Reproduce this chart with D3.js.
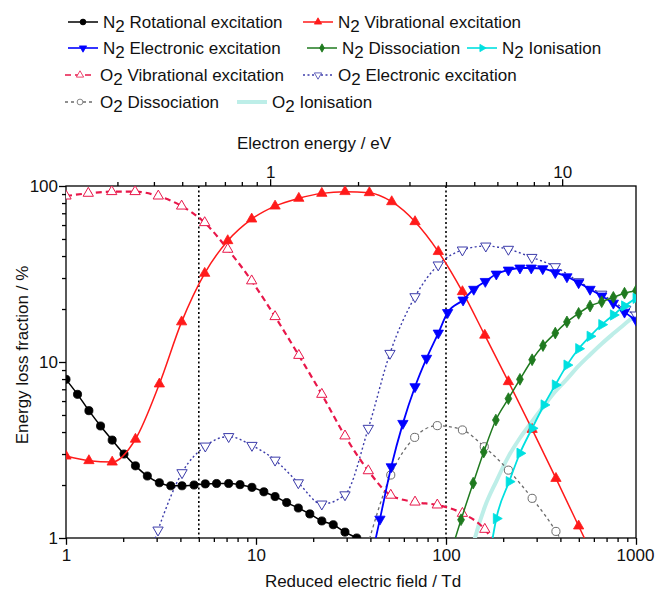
<!DOCTYPE html>
<meta charset="utf-8">
<style type="text/css">
  body { margin: 0; background: #fff; }
  text { font-family: "Liberation Sans", Arial, sans-serif; fill: #111; }
  .axis path, .axis line { stroke: #000; stroke-width: 1.3; }
</style>
<body>
</body>
<script src="https://d3js.org/d3.v7.min.js"></script>
<script>
  // energy loss fractions (%) vs reduced electric field (Td)
  var n2Rotational = [[1, 7.97], [1.15, 6.55], [1.32, 5.29], [1.52, 4.33], [1.75, 3.6], [2.02, 3.0], [2.32, 2.57],
    [2.68, 2.25], [3.1, 2.06], [3.56, 1.98], [4.08, 1.98], [4.72, 2.0], [5.41, 2.03], [6.2, 2.04], [7.18, 2.04],
    [8.24, 2.01], [9.52, 1.94], [11, 1.83], [12.6, 1.72], [14.5, 1.59], [16.7, 1.48], [19.2, 1.37], [22.2, 1.25],
    [25.5, 1.19], [29.4, 1.08], [33.9, 1.0], [39, 0.92]];
  var n2Vibrational = [[1, 2.92], [1.32, 2.75], [1.75, 2.7], [2.32, 3.64], [3.1, 7.5], [4.06, 16.9], [5.37, 31.9],
    [7.1, 48.9], [9.49, 64.9], [12.6, 76.9], [16.8, 85.1], [22.2, 90.8], [29.4, 92.9], [39.5, 91.6], [51.8, 81.4],
    [68.7, 62.7], [91.1, 42.4], [122, 25.1], [160, 14.2], [213, 7.73], [284, 4.14], [379, 2.18], [499, 1.17], [660, 0.62]];
  var n2Electronic = [[40, 0.72], [44.9, 1.28], [51.5, 2.54], [59.3, 4.48], [68.7, 7.24], [79, 10.5], [91.1, 14.6],
    [102, 19.1], [123, 22.5], [140, 25.9], [161, 28.7], [184, 31.6], [213, 33.3], [245, 34.2], [281, 34.2],
    [323, 33.9], [376, 32.2], [433, 30.5], [499, 28.2], [573, 25.9], [660, 23.7], [760, 21.6], [870, 19.2], [1000, 17.3]];
  var n2Dissociation = [[105, 0.8], [120, 1.27], [139, 2.05], [158, 3.08], [183, 4.68], [213, 6.19], [245, 7.97],
    [284, 10.3], [324, 12.4], [376, 14.6], [433, 16.9], [499, 18.9], [573, 20.8], [660, 22.0], [760, 23.3],
    [870, 24.6], [1000, 25.4]];
  var n2Ionisation = [[170, 0.8], [184, 1.29], [215, 2.09], [245, 3.03], [284, 4.2], [328, 5.7], [376, 7.4],
    [433, 9.6], [499, 11.9], [573, 14.0], [660, 16.3], [760, 18.5], [870, 20.8], [1000, 23]];
  var o2Vibrational = [[1, 87.7], [1.31, 90.9], [1.74, 92.9], [2.31, 92.9], [3.06, 87.7], [4.06, 76.9], [5.37, 61.9],
    [7.1, 43.7], [9.49, 28.9], [12.6, 18.1], [16.8, 10.9], [22.2, 6.55], [29.4, 3.8], [39, 2.41], [51.2, 1.75],
    [68.7, 1.6], [90, 1.54], [122, 1.38], [160, 1.12], [210, 0.7]];
  var o2Electronic = [[2.7, 0.75], [3.05, 1.11], [4.08, 2.35], [5.41, 3.33], [7.18, 3.77], [9.52, 3.36], [12.6, 2.77],
    [16.7, 2.06], [22.2, 1.56], [29.4, 1.76], [39, 4.2], [50.7, 11.2], [68.7, 23.5], [91, 35.6], [122, 43.3],
    [162, 45.6], [213, 43.7], [283, 39.3], [376, 34.8], [499, 28.6], [660, 24.3], [882, 19.9], [1000, 18.5]];
  var o2Dissociation = [[38, 0.85], [51.2, 2.28], [68.4, 3.73], [90, 4.35], [122, 4.11], [159, 3.3], [213, 2.43],
    [284, 1.68], [379, 1.09], [460, 0.75]];
  var o2Ionisation = [[135, 0.8], [142, 1.0], [160, 1.5], [184, 2.1], [213, 2.9], [245, 3.7], [284, 4.6], [330, 5.7],
    [376, 6.8], [433, 8.0], [499, 9.5], [573, 11.0], [660, 12.7], [760, 14.5], [870, 16.4], [1000, 18.5]];

  var fieldTicks = [1, 10, 100, 1000];
  var fractionTicks = [1, 10, 100];
  var energyTicks = [1, 10];
  var markerLines = [5, 100]; // dotted verticals

  // series table: molecule, process label, data, style
  var series = [
    {mol: "O", label: " Ionisation", data: o2Ionisation, color: "#bdeee8", width: 4, dash: null, shape: null},
    {mol: "O", label: " Dissociation", data: o2Dissociation, color: "#6b6b6b", width: 1.3, dash: "3,3", shape: "circle", open: true},
    {mol: "O", label: " Electronic excitation", data: o2Electronic, color: "#3c3caa", width: 1.4, dash: "2,2.5", shape: "down", open: true},
    {mol: "O", label: " Vibrational excitation", data: o2Vibrational, color: "#e8174a", width: 2.2, dash: "6,4", shape: "up", open: true},
    {mol: "N", label: " Rotational excitation", data: n2Rotational, color: "#000000", width: 1.5, dash: null, shape: "circle"},
    {mol: "N", label: " Vibrational excitation", data: n2Vibrational, color: "#ff1a1a", width: 1.5, dash: null, shape: "up"},
    {mol: "N", label: " Electronic excitation", data: n2Electronic, color: "#0000ff", width: 1.8, dash: null, shape: "down"},
    {mol: "N", label: " Dissociation", data: n2Dissociation, color: "#1f7a1f", width: 1.5, dash: null, shape: "diamond"},
    {mol: "N", label: " Ionisation", data: n2Ionisation, color: "#00e0e0", width: 1.8, dash: null, shape: "right"}
  ];

  var W = 657, H = 590;
  var margin = {top: 186, right: 21, bottom: 52, left: 66};
  var width = W - margin.left - margin.right,
    height = H - margin.top - margin.bottom;

  var svg = d3.select("body").append("svg")
    .attr("width", W)
    .attr("height", H);

  var xScale = d3.scaleLog().domain([1, 1000]).range([0, width]);
  var yScale = d3.scaleLog().domain([1, 100]).range([height, 0]);
  // mean electron energy axis on top, log as well
  var eScale = d3.scaleLog().domain([0.2, 17.9]).range([0, width]);

  var g = svg.append("g")
    .attr("transform", "translate(" + margin.left + "," + margin.top + ")");

  g.append("clipPath").attr("id", "plotclip")
    .append("rect").attr("width", width).attr("height", height);

  function minorTicks(scale) {
    return scale.ticks().filter(function(d) { return d >= scale.domain()[0] && d <= scale.domain()[1]; });
  }

  // axes
  var xAxis = g.append("g").attr("class", "axis")
    .attr("transform", "translate(0," + height + ")")
    .call(d3.axisBottom(xScale).tickValues(minorTicks(xScale))
      .tickFormat(function(d) { return fieldTicks.indexOf(d) >= 0 ? d : ""; })
      .tickSize(4).tickPadding(7));
  var yAxis = g.append("g").attr("class", "axis")
    .call(d3.axisLeft(yScale).tickValues(minorTicks(yScale))
      .tickFormat(function(d) { return fractionTicks.indexOf(d) >= 0 ? d : ""; })
      .tickSize(4).tickPadding(4));
  var topAxis = g.append("g").attr("class", "axis")
    .call(d3.axisTop(eScale).tickValues(minorTicks(eScale).filter(function(d) { return d > 0.2; }))
      .tickFormat(function(d) { return energyTicks.indexOf(d) >= 0 ? d : ""; })
      .tickSize(4).tickPadding(4));

  [xAxis, yAxis, topAxis].forEach(function(a) {
    a.select(".domain").remove();
    a.selectAll("text").style("font-size", "17px").attr("fill", "#111");
    a.selectAll(".tick").filter(function(d) {
      return fieldTicks.indexOf(d) >= 0 || energyTicks.indexOf(d) >= 0;
    }).select("line").attr("y2", function() { return +d3.select(this).attr("y2") * 1.7; });
  });
  yAxis.selectAll(".tick").filter(function(d) { return fractionTicks.indexOf(d) >= 0; })
    .select("line").attr("x2", -7);
  xAxis.selectAll(".tick").filter(function(d) { return d === 1000; }).select("text").attr("dx", -1);

  g.append("rect")
    .attr("width", width).attr("height", height)
    .attr("fill", "none").attr("stroke", "#000").attr("stroke-width", 1.3);

  // axis titles
  svg.append("text")
    .attr("x", 363).attr("y", 587)
    .attr("text-anchor", "middle")
    .style("font-size", "17px")
    .text("Reduced electric field / Td");
  svg.append("text")
    .attr("x", 314).attr("y", 149)
    .attr("text-anchor", "middle")
    .style("font-size", "17px")
    .text("Electron energy / eV");
  svg.append("text")
    .attr("transform", "translate(28,355) rotate(-90)")
    .attr("text-anchor", "middle")
    .style("font-size", "17px")
    .text("Energy loss fraction / %");

  var plot = g.append("g").attr("clip-path", "url(#plotclip)");

  // dotted reference lines
  plot.selectAll(".vline")
    .data(markerLines)
    .enter().append("line")
    .attr("x1", function(d) { return xScale(d); })
    .attr("x2", function(d) { return xScale(d); })
    .attr("y1", 0).attr("y2", height)
    .attr("stroke", "#000").attr("stroke-width", 1.6)
    .attr("stroke-dasharray", "2,2.5");

  var line = d3.line()
    .x(function(d) { return xScale(d[0]); })
    .y(function(d) { return yScale(d[1]); })
    .curve(d3.curveMonotoneX);

  function symbolPath(shape, big) {
    var k = big ? 1 : 0.5;
    if (shape === "circle") return d3.symbol(d3.symbolCircle, 52 * k)();
    if (shape === "diamond") return d3.symbol(d3.symbolDiamond, 40 * k)();
    return d3.symbol(d3.symbolTriangle, 46 * k)();
  }
  function symbolRotate(shape) {
    return shape === "down" ? 180 : shape === "right" ? 90 : 0;
  }

  series.forEach(function(s) {
    plot.append("path")
      .datum(s.data)
      .attr("d", line)
      .attr("fill", "none")
      .attr("stroke", s.color)
      .attr("stroke-width", s.width)
      .attr("stroke-dasharray", s.dash);

    if (!s.shape) return;
    plot.selectAll(null)
      .data(s.data)
      .enter().append("path")
      .attr("d", symbolPath(s.shape, true))
      .attr("transform", function(d) {
        return "translate(" + xScale(d[0]) + "," + yScale(d[1]) + ") rotate(" + symbolRotate(s.shape) + ")";
      })
      .attr("fill", s.open ? "#fff" : s.color)
      .attr("stroke", s.color)
      .attr("stroke-width", s.open ? 1 : 0.8);
  });

  // legend, laid out in rows like the original
  var legendPos = [
    {i: 4, x: 68, y: 22}, {i: 5, x: 303, y: 22},
    {i: 6, x: 68, y: 48}, {i: 7, x: 307, y: 48}, {i: 8, x: 467, y: 48},
    {i: 3, x: 65, y: 75}, {i: 2, x: 303, y: 75},
    {i: 1, x: 65, y: 102}, {i: 0, x: 237, y: 102}
  ];

  var legend = svg.append("g");
  legendPos.forEach(function(p) {
    var s = series[p.i];
    var len = 30;
    var item = legend.append("g").attr("transform", "translate(" + p.x + "," + p.y + ")");
    item.append("line")
      .attr("x1", 0).attr("x2", len)
      .attr("stroke", s.color)
      .attr("stroke-width", s.shape ? Math.min(s.width, 1.6) : s.width)
      .attr("stroke-dasharray", s.dash);
    if (s.shape) {
      item.append("path")
        .attr("d", symbolPath(s.shape, false))
        .attr("transform", "translate(" + (len / 2) + ",0) rotate(" + symbolRotate(s.shape) + ")")
        .attr("fill", s.open ? "#fff" : s.color)
        .attr("stroke", s.color)
        .attr("stroke-width", 0.8);
    }
    var t = item.append("text")
      .attr("x", len + 5).attr("y", 6)
      .style("font-size", "17px");
    t.append("tspan").text(s.mol);
    t.append("tspan").attr("dy", 4).text("2");
    t.append("tspan").attr("dy", -4).text(s.label);
  });
</script>
